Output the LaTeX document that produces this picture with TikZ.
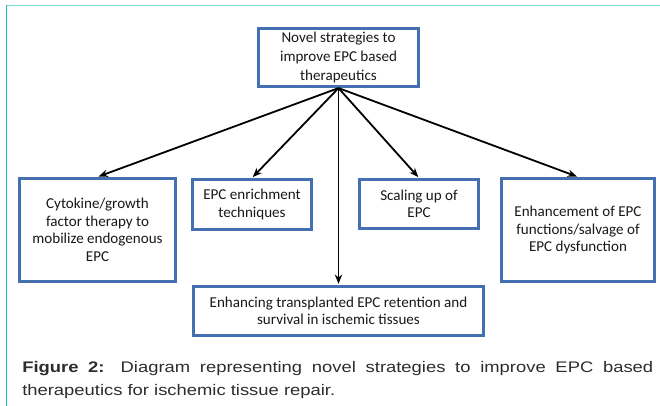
\documentclass[tikz,border=0pt]{standalone}
\usepackage{fontspec}
\setmainfont{Carlito}
\newfontfamily\capfont[FakeStretch=1.2]{Liberation Sans}
\usetikzlibrary{arrows.meta}
\definecolor{boxblue}{RGB}{68,112,178}
\definecolor{tealtop}{RGB}{125,217,203}
\definecolor{tealleft}{RGB}{26,191,165}
\definecolor{captxt}{RGB}{45,45,45}
\definecolor{boxtxt}{RGB}{25,25,25}
\tikzset{
  sbox/.style={draw=boxblue, line width=2pt, fill=white, inner sep=0pt,
    align=center, text=boxtxt,
    font=\fontsize{11.3pt}{13.2pt}\selectfont},
  conn/.style={line width=1.35pt, -{Stealth[length=7pt,width=5.5pt]}, shorten >=0.8pt}
}
\begin{document}
\begin{tikzpicture}[x=0.75pt,y=-0.75pt]
\useasboundingbox (0,0) rectangle (660,406);
\fill[white] (0,0) rectangle (660,406);
\draw[tealtop, line width=1.2pt] (6,5.7) -- (660,5.7);
\draw[tealleft, line width=1.2pt] (6.5,5) -- (6.5,406);

\node[sbox, minimum width=160.5*0.75pt, minimum height=58.5*0.75pt,
  font=\fontsize{11.3pt}{14.4pt}\selectfont] (top) at (338.5,57.5)
  {Novel strategies to\\improve EPC based\\therapeutics};
\node[sbox, minimum width=156.5*0.75pt, minimum height=103.5*0.75pt] (cyt) at (97.5,230)
  {Cytokine/growth\\factor therapy to\\mobilize endogenous\\EPC};
\node[sbox, minimum width=119.5*0.75pt, minimum height=50.5*0.75pt] (enr) at (252,204.5)
  {EPC enrichment\\techniques};
\node[sbox, minimum width=119.5*0.75pt, minimum height=49.5*0.75pt] (scl) at (419,204)
  {Scaling up of\\EPC};
\node[sbox, minimum width=153.5*0.75pt, minimum height=103.5*0.75pt] (enh) at (578,230)
  {Enhancement of EPC\\functions/salvage of\\EPC dysfunction};
\node[sbox, minimum width=290.5*0.75pt, minimum height=49.5*0.75pt] (ret) at (338.5,311)
  {Enhancing transplanted EPC retention and\\survival in ischemic tissues};

\draw[conn] (top.south) -- (cyt.north);
\draw[conn] (top.south) -- (enr.north);
\draw[conn] (top.south) -- (ret.north);
\draw[conn] (top.south) -- (scl.north);
\draw[conn] (top.south) -- (enh.north);

\node[anchor=north west, inner sep=0pt, text width=631*0.75pt, align=justify,
  text=captxt, font=\capfont\fontsize{11.5pt}{17.6pt}\selectfont] (cap) at (22,361)
  {\hyphenpenalty=10000 \textbf{Figure 2:} Diagram representing novel strategies to improve EPC based\linebreak therapeutics for ischemic tissue repair.};
\end{tikzpicture}
\end{document}
